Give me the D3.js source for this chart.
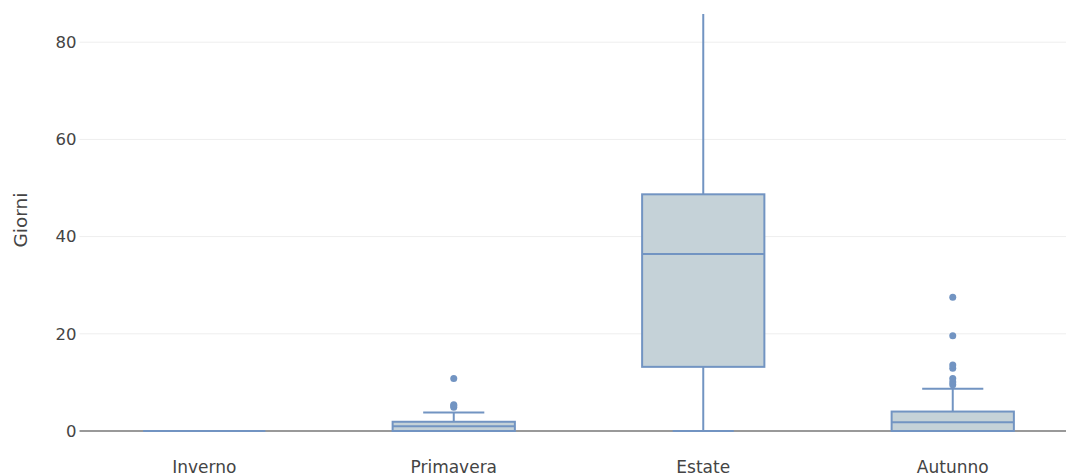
<!DOCTYPE html>
<html>
<head>
<meta charset="utf-8">
<script src="https://cdn.jsdelivr.net/npm/d3@7"></script>
<style>
  html, body { margin: 0; padding: 0; background: #fff; }
  svg { display: block; font-family: "DejaVu Sans", Verdana, sans-serif; }
</style>
</head>
<body>
<svg id="chart" width="1066" height="476"></svg>
<script>
// Seasons on the x axis
const seasons = ["Inverno", "Primavera", "Estate", "Autunno"];
// Box statistics per season (days)
const q1 = [0, 0, 13.2, 0];
const median = [0, 1.0, 36.4, 1.8];
const q3 = [0, 1.9, 48.7, 4.0];
const lowerWhisker = [0, 0, 0, 0];
const upperWhisker = [0, 3.8, 90, 8.7];
// Outlying points per season
const outliers = [
  [],
  [4.9, 5.2, 5.4, 10.8],
  [],
  [9.5, 10.1, 10.8, 12.9, 13.6, 19.6, 27.5]
];
const yTicks = [0, 20, 40, 60, 80];

const W = 1066, H = 476;
const plot = { left: 79.5, right: 1077.5, top: 14, bottom: 431 };

const svg = d3.select("#chart");
const x = d3.scaleBand().domain(seasons).range([plot.left, plot.right]).padding(0);
const y = d3.scaleLinear().domain([0, 85.8]).range([plot.bottom, plot.top]);

const stroke = "rgb(114,148,194)";
const fill = "rgb(197,210,216)";
const textColor = "#444";
const fontFamily = "'DejaVu Sans', Verdana, sans-serif";

svg.append("defs").append("clipPath").attr("id", "plotclip")
  .append("rect").attr("x", plot.left).attr("y", plot.top)
  .attr("width", W - plot.left).attr("height", plot.bottom - plot.top + 4);

// Horizontal grid lines
svg.append("g").selectAll("line").data(yTicks.filter(d => d !== 0)).join("line")
  .attr("x1", plot.left).attr("x2", W)
  .attr("y1", d => y(d)).attr("y2", d => y(d))
  .attr("stroke", "#eeeeee").attr("stroke-width", 1);

// Y axis labels
const yAxis = svg.append("g")
  .attr("transform", `translate(${plot.left},0)`)
  .call(d3.axisLeft(y).tickValues(yTicks).tickSize(0).tickPadding(3));
yAxis.select(".domain").remove();
yAxis.selectAll("text").attr("fill", textColor).style("font-size", "16.5px")
  .style("font-family", fontFamily);

// Y axis title
svg.append("text")
  .attr("transform", `translate(27,${220}) rotate(-90)`)
  .attr("text-anchor", "middle")
  .attr("fill", textColor).style("font-size", "18.5px")
  .style("font-family", fontFamily)
  .text("Giorni");

// Zero line
svg.append("line")
  .attr("x1", plot.left).attr("x2", W)
  .attr("y1", y(0)).attr("y2", y(0))
  .attr("stroke", "#999").attr("stroke-width", 2);

// X axis labels
const xAxis = svg.append("g")
  .attr("transform", `translate(0,${plot.bottom})`)
  .call(d3.axisBottom(x).tickSize(0).tickPadding(30));
xAxis.select(".domain").remove();
xAxis.selectAll("text").attr("fill", textColor).style("font-size", "17px")
  .style("font-family", fontFamily);

// Boxes
const boxW = x.bandwidth() * 0.49;
const capW = boxW / 2;
const g = svg.append("g").attr("clip-path", "url(#plotclip)");

seasons.forEach((s, i) => {
  const cx = x(s) + x.bandwidth() / 2;
  const grp = g.append("g");
  // whiskers
  grp.append("line")
    .attr("x1", cx).attr("x2", cx)
    .attr("y1", y(q3[i])).attr("y2", y(upperWhisker[i]))
    .attr("stroke", stroke).attr("stroke-width", 2);
  grp.append("line")
    .attr("x1", cx).attr("x2", cx)
    .attr("y1", y(q1[i])).attr("y2", y(lowerWhisker[i]))
    .attr("stroke", stroke).attr("stroke-width", 2);
  [upperWhisker[i], lowerWhisker[i]].forEach(v => {
    grp.append("line")
      .attr("x1", cx - capW / 2).attr("x2", cx + capW / 2)
      .attr("y1", y(v)).attr("y2", y(v))
      .attr("stroke", stroke).attr("stroke-width", 2);
  });
  // box
  grp.append("rect")
    .attr("x", cx - boxW / 2).attr("width", boxW)
    .attr("y", y(q3[i])).attr("height", y(q1[i]) - y(q3[i]))
    .attr("fill", fill).attr("stroke", stroke).attr("stroke-width", 2);
  // median
  grp.append("line")
    .attr("x1", cx - boxW / 2).attr("x2", cx + boxW / 2)
    .attr("y1", y(median[i])).attr("y2", y(median[i]))
    .attr("stroke", stroke).attr("stroke-width", 2);
  // outliers
  grp.selectAll("circle").data(outliers[i]).join("circle")
    .attr("cx", cx).attr("cy", d => y(d)).attr("r", 3.5)
    .attr("fill", stroke);
});
</script>
</body>
</html>
